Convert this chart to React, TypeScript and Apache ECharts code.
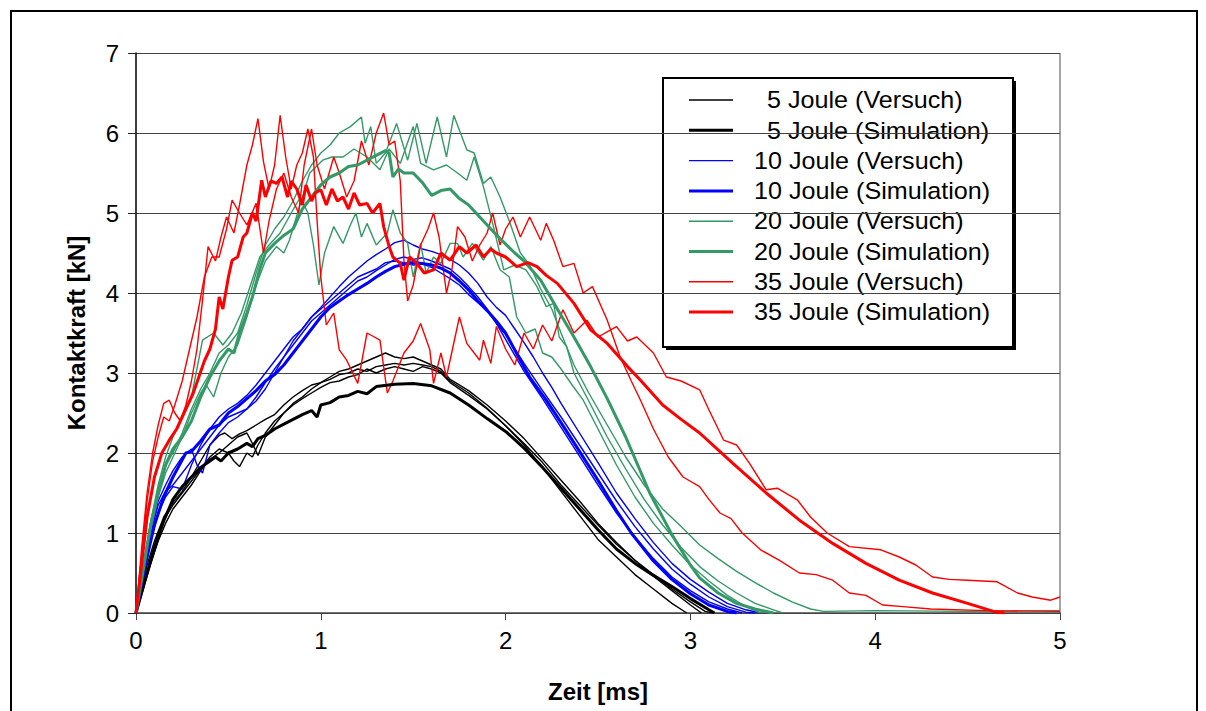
import React, { useEffect, useRef } from "react";
import * as echarts from "echarts";

type P = [number, number][];

// ---------- axis ticks ----------
const xTickValues = [0, 1, 2, 3, 4, 5];
const yTickValues = [0, 1, 2, 3, 4, 5, 6, 7];

// ---------- legend labels ----------
const legendLabels = [
  "5 Joule (Versuch)",
  "5 Joule (Simulation)",
  "10 Joule (Versuch)",
  "10 Joule (Simulation)",
  "20 Joule (Versuch)",
  "20 Joule (Simulation)",
  "35 Joule (Versuch)",
  "35 Joule (Simulation)",
];

// ---------- 5 Joule ----------
const j5Test1: P = [[0,0],[0.03,0.3],[0.06,0.6],[0.1,0.9],[0.15,1.2],[0.2,1.38],[0.25,1.52],[0.3,1.7],[0.35,1.9],[0.4,2.1],[0.45,2.22],[0.48,2.25],[0.52,2.18],[0.56,2.24],[0.6,2.28],[0.65,2.35],[0.7,2.42],[0.75,2.48],[0.8,2.6],[0.85,2.7],[0.9,2.78],[0.95,2.85],[1.0,2.88],[1.05,2.95],[1.1,3.02],[1.15,3.05],[1.2,3.1],[1.25,3.15],[1.3,3.2],[1.35,3.25],[1.4,3.2],[1.45,3.18],[1.5,3.2],[1.55,3.15],[1.6,3.1],[1.65,3.05],[1.7,2.92],[1.8,2.78],[1.9,2.6],[2.0,2.4],[2.1,2.18],[2.2,1.92],[2.3,1.66],[2.4,1.4],[2.5,1.12],[2.6,0.88],[2.7,0.66],[2.8,0.46],[2.9,0.28],[3.0,0.1],[3.06,0]];
const j5Test2: P = [[0,0],[0.04,0.35],[0.08,0.7],[0.12,1.0],[0.16,1.2],[0.2,1.35],[0.25,1.5],[0.3,1.65],[0.35,1.8],[0.4,1.95],[0.45,2.05],[0.5,2.0],[0.53,1.9],[0.56,1.83],[0.6,2.0],[0.63,1.95],[0.66,2.1],[0.7,2.25],[0.75,2.4],[0.8,2.5],[0.85,2.62],[0.9,2.7],[0.95,2.8],[1.0,2.88],[1.05,2.92],[1.1,2.98],[1.15,3.0],[1.2,3.05],[1.25,3.02],[1.3,3.08],[1.35,3.1],[1.4,3.12],[1.45,3.1],[1.5,3.12],[1.55,3.1],[1.6,3.08],[1.65,3.02],[1.7,2.9],[1.8,2.75],[1.9,2.56],[2.0,2.34],[2.1,2.1],[2.2,1.82],[2.3,1.52],[2.4,1.22],[2.5,0.92],[2.6,0.7],[2.7,0.48],[2.8,0.3],[2.9,0.12],[2.98,0]];
const j5Test3: P = [[0,0],[0.04,0.3],[0.08,0.62],[0.12,0.9],[0.16,1.12],[0.2,1.3],[0.25,1.45],[0.3,1.6],[0.35,1.78],[0.4,1.92],[0.45,2.0],[0.5,2.1],[0.55,2.2],[0.6,2.25],[0.63,2.12],[0.66,1.97],[0.7,2.2],[0.75,2.35],[0.8,2.5],[0.85,2.6],[0.9,2.68],[0.95,2.75],[1.0,2.82],[1.05,2.88],[1.1,2.9],[1.15,2.95],[1.2,2.98],[1.25,3.05],[1.3,3.0],[1.35,3.05],[1.4,3.08],[1.45,3.05],[1.5,3.02],[1.55,3.08],[1.6,3.05],[1.65,3.0],[1.7,2.88],[1.8,2.72],[1.9,2.55],[2.0,2.34],[2.1,2.12],[2.2,1.88],[2.3,1.6],[2.4,1.35],[2.5,1.1],[2.6,0.86],[2.7,0.66],[2.8,0.48],[2.9,0.3],[3.0,0.14],[3.08,0.02],[3.12,0]];
const j5Sim: P = [[0,0],[0.05,0.42],[0.1,0.8],[0.15,1.15],[0.2,1.42],[0.25,1.58],[0.3,1.7],[0.35,1.82],[0.4,1.9],[0.43,1.95],[0.46,1.9],[0.5,2.0],[0.55,2.05],[0.6,2.12],[0.63,2.08],[0.66,2.18],[0.7,2.22],[0.75,2.3],[0.8,2.36],[0.85,2.42],[0.9,2.48],[0.95,2.53],[0.98,2.45],[1.0,2.6],[1.05,2.63],[1.1,2.7],[1.15,2.72],[1.2,2.77],[1.25,2.74],[1.3,2.83],[1.4,2.86],[1.5,2.87],[1.6,2.84],[1.7,2.75],[1.8,2.6],[1.9,2.43],[2.0,2.27],[2.1,2.06],[2.2,1.82],[2.3,1.56],[2.4,1.3],[2.5,1.04],[2.6,0.8],[2.7,0.62],[2.8,0.47],[2.9,0.33],[3.0,0.18],[3.1,0.04],[3.13,0]];

// ---------- 10 Joule ----------
const j10Test1: P = [[0,0],[0.04,0.5],[0.08,1.0],[0.12,1.35],[0.16,1.52],[0.2,1.6],[0.25,1.75],[0.3,1.9],[0.35,2.05],[0.4,2.2],[0.45,2.35],[0.5,2.45],[0.55,2.5],[0.6,2.55],[0.65,2.65],[0.7,2.8],[0.75,3.0],[0.8,3.2],[0.85,3.4],[0.9,3.55],[0.95,3.7],[1.0,3.82],[1.05,3.95],[1.1,4.08],[1.15,4.2],[1.2,4.3],[1.25,4.4],[1.3,4.48],[1.35,4.55],[1.4,4.63],[1.45,4.66],[1.5,4.6],[1.55,4.55],[1.6,4.52],[1.65,4.48],[1.7,4.42],[1.75,4.35],[1.8,4.25],[1.85,4.12],[1.9,3.95],[1.95,3.82],[2.0,3.72],[2.05,3.55],[2.1,3.38],[2.15,3.2],[2.2,3.0],[2.25,2.82],[2.3,2.62],[2.4,2.25],[2.5,1.88],[2.6,1.5],[2.7,1.18],[2.8,0.88],[2.9,0.62],[3.0,0.42],[3.1,0.26],[3.2,0.12],[3.3,0.04],[3.38,0]];
const j10Test2: P = [[0,0],[0.04,0.55],[0.08,1.05],[0.12,1.4],[0.16,1.6],[0.2,1.78],[0.25,1.95],[0.3,2.05],[0.33,1.85],[0.36,1.75],[0.4,2.1],[0.45,2.25],[0.5,2.38],[0.55,2.45],[0.6,2.55],[0.65,2.7],[0.7,2.88],[0.75,3.05],[0.8,3.2],[0.85,3.35],[0.9,3.5],[0.95,3.65],[1.0,3.75],[1.05,3.85],[1.1,3.95],[1.15,4.05],[1.2,4.15],[1.25,4.2],[1.3,4.28],[1.35,4.35],[1.4,4.42],[1.45,4.45],[1.5,4.42],[1.55,4.44],[1.6,4.4],[1.65,4.35],[1.7,4.3],[1.75,4.2],[1.8,4.08],[1.85,3.95],[1.9,3.8],[1.95,3.62],[2.0,3.42],[2.05,3.22],[2.1,3.02],[2.2,2.68],[2.3,2.32],[2.4,1.96],[2.5,1.6],[2.6,1.25],[2.7,0.95],[2.8,0.68],[2.9,0.45],[3.0,0.28],[3.1,0.14],[3.2,0.05],[3.28,0]];
const j10Test3: P = [[0,0],[0.04,0.45],[0.08,0.9],[0.12,1.25],[0.16,1.45],[0.2,1.58],[0.25,1.55],[0.3,1.85],[0.35,2.1],[0.4,2.3],[0.45,2.45],[0.5,2.55],[0.55,2.62],[0.6,2.72],[0.65,2.85],[0.7,3.0],[0.75,3.15],[0.8,3.3],[0.85,3.45],[0.9,3.55],[0.95,3.7],[1.0,3.8],[1.05,3.9],[1.1,4.0],[1.15,4.1],[1.2,4.2],[1.25,4.25],[1.3,4.3],[1.35,4.38],[1.4,4.4],[1.45,4.38],[1.5,4.35],[1.55,4.36],[1.6,4.32],[1.65,4.25],[1.7,4.18],[1.75,4.1],[1.8,3.98],[1.85,3.88],[1.9,3.78],[1.95,3.62],[2.0,3.48],[2.05,3.3],[2.1,3.12],[2.2,2.78],[2.3,2.45],[2.4,2.1],[2.5,1.75],[2.6,1.4],[2.7,1.08],[2.8,0.8],[2.9,0.55],[3.0,0.36],[3.1,0.2],[3.2,0.08],[3.3,0.01],[3.35,0]];
const j10Sim: P = [[0,0],[0.05,0.6],[0.1,1.1],[0.15,1.45],[0.2,1.7],[0.27,2.0],[0.3,2.02],[0.35,2.15],[0.4,2.3],[0.45,2.35],[0.5,2.5],[0.55,2.58],[0.6,2.68],[0.65,2.78],[0.7,2.9],[0.75,2.98],[0.8,3.1],[0.85,3.25],[0.9,3.4],[0.95,3.55],[1.0,3.7],[1.05,3.82],[1.1,3.9],[1.15,3.98],[1.2,4.05],[1.25,4.12],[1.3,4.2],[1.35,4.27],[1.4,4.33],[1.45,4.36],[1.5,4.38],[1.55,4.37],[1.6,4.35],[1.65,4.31],[1.7,4.25],[1.75,4.15],[1.8,4.04],[1.85,3.9],[1.9,3.78],[1.95,3.65],[2.0,3.5],[2.07,3.2],[2.13,2.95],[2.22,2.66],[2.3,2.38],[2.4,2.02],[2.5,1.66],[2.6,1.28],[2.68,1.0],[2.8,0.65],[2.9,0.42],[3.0,0.24],[3.1,0.1],[3.2,0.02],[3.25,0]];

// ---------- 20 Joule ----------
const j20Test1: P = [[0,0],[0.04,0.6],[0.08,1.15],[0.12,1.55],[0.16,1.85],[0.2,2.0],[0.25,2.25],[0.3,2.55],[0.35,2.8],[0.4,3.0],[0.45,3.25],[0.5,3.35],[0.55,3.5],[0.6,3.85],[0.65,4.25],[0.7,4.6],[0.75,4.8],[0.8,4.95],[0.85,5.15],[0.9,5.4],[0.95,5.6],[1.0,5.75],[1.05,5.85],[1.1,6.0],[1.16,6.08],[1.22,6.2],[1.24,5.87],[1.27,6.08],[1.3,5.62],[1.35,5.75],[1.41,6.12],[1.47,5.66],[1.52,6.12],[1.57,5.62],[1.63,6.2],[1.68,5.7],[1.72,6.22],[1.79,5.79],[1.83,5.75],[1.88,5.37],[1.92,5.45],[1.97,5.2],[2.02,4.9],[2.08,4.5],[2.13,4.35],[2.19,4.05],[2.25,3.8],[2.3,3.5],[2.37,3.1],[2.45,2.75],[2.55,2.35],[2.65,1.95],[2.75,1.6],[2.85,1.3],[2.95,1.08],[3.05,0.85],[3.15,0.68],[3.25,0.52],[3.35,0.38],[3.45,0.25],[3.55,0.14],[3.65,0.05],[3.72,0.02],[4.0,0.03],[4.5,0.02],[5.0,0.03]];
const j20Test2: P = [[0,0],[0.04,0.55],[0.08,1.05],[0.12,1.45],[0.16,1.75],[0.2,1.95],[0.25,2.2],[0.3,2.5],[0.35,2.75],[0.38,2.85],[0.42,2.7],[0.46,3.0],[0.5,3.2],[0.55,3.35],[0.6,3.7],[0.65,4.1],[0.7,4.4],[0.76,4.58],[0.8,4.5],[0.83,4.66],[0.88,5.04],[0.94,5.5],[1.01,5.66],[1.06,5.7],[1.12,5.7],[1.18,5.8],[1.25,5.7],[1.32,5.54],[1.37,5.8],[1.43,5.62],[1.5,6.08],[1.54,5.62],[1.61,5.54],[1.68,5.6],[1.74,5.5],[1.79,5.41],[1.83,5.7],[1.88,5.33],[1.93,4.87],[1.99,4.29],[2.05,4.35],[2.11,4.29],[2.17,4.08],[2.22,3.83],[2.26,3.87],[2.29,3.45],[2.33,3.33],[2.37,3.0],[2.45,2.65],[2.55,2.2],[2.65,1.8],[2.75,1.42],[2.85,1.1],[2.95,0.82],[3.05,0.58],[3.15,0.4],[3.25,0.25],[3.35,0.12],[3.45,0.04],[3.5,0]];
const j20Test3: P = [[0,0],[0.04,0.6],[0.08,1.15],[0.12,1.6],[0.16,1.95],[0.2,2.2],[0.25,2.45],[0.3,2.7],[0.36,3.41],[0.42,3.5],[0.47,3.35],[0.52,3.5],[0.57,3.75],[0.62,4.1],[0.67,4.45],[0.72,4.6],[0.78,4.75],[0.84,5.0],[0.89,5.2],[0.93,5.0],[0.96,4.6],[0.99,4.1],[1.02,4.5],[1.07,4.83],[1.12,4.62],[1.16,4.85],[1.19,5.0],[1.22,4.7],[1.25,4.87],[1.3,4.6],[1.36,4.75],[1.39,5.04],[1.43,4.75],[1.47,4.62],[1.5,4.2],[1.54,4.62],[1.57,4.25],[1.61,4.45],[1.65,4.37],[1.7,4.62],[1.74,4.62],[1.77,4.45],[1.82,4.62],[1.88,4.41],[1.92,4.58],[1.97,4.29],[2.02,4.2],[2.06,3.7],[2.11,3.5],[2.16,3.55],[2.2,3.25],[2.25,3.2],[2.3,3.05],[2.36,2.85],[2.42,2.66],[2.5,2.3],[2.6,1.85],[2.7,1.45],[2.8,1.12],[2.9,0.85],[3.0,0.6],[3.1,0.4],[3.2,0.22],[3.3,0.08],[3.38,0]];
const j20Sim: P = [[0,0],[0.04,0.55],[0.08,1.1],[0.12,1.5],[0.16,1.85],[0.2,2.05],[0.25,2.2],[0.3,2.4],[0.35,2.7],[0.4,2.95],[0.45,3.15],[0.5,3.3],[0.53,3.25],[0.56,3.5],[0.6,3.75],[0.63,3.95],[0.67,4.3],[0.7,4.5],[0.75,4.62],[0.8,4.72],[0.85,4.8],[0.9,5.05],[0.95,5.2],[1.0,5.35],[1.05,5.45],[1.1,5.5],[1.15,5.58],[1.2,5.6],[1.25,5.66],[1.3,5.72],[1.35,5.78],[1.37,5.75],[1.39,5.45],[1.42,5.55],[1.45,5.5],[1.5,5.5],[1.55,5.38],[1.6,5.22],[1.65,5.28],[1.7,5.3],[1.75,5.18],[1.8,5.1],[1.86,4.95],[1.92,4.8],[1.97,4.68],[2.05,4.5],[2.1,4.4],[2.19,4.16],[2.28,3.8],[2.37,3.45],[2.46,3.08],[2.55,2.68],[2.65,2.2],[2.78,1.5],[2.9,0.98],[3.0,0.6],[3.05,0.44],[3.15,0.25],[3.25,0.12],[3.35,0.05],[3.45,0]];

// ---------- 35 Joule ----------
const j35Test1: P = [[0,0],[0.03,0.8],[0.06,1.5],[0.09,2.0],[0.12,2.35],[0.15,2.62],[0.18,2.66],[0.21,2.5],[0.24,2.4],[0.27,2.6],[0.3,2.9],[0.33,3.3],[0.36,3.91],[0.39,4.58],[0.43,4.4],[0.46,4.7],[0.49,4.95],[0.53,4.75],[0.56,5.1],[0.6,5.6],[0.63,5.85],[0.66,6.18],[0.69,5.64],[0.72,5.3],[0.75,5.6],[0.78,6.22],[0.81,5.7],[0.84,5.3],[0.87,5.6],[0.9,5.75],[0.93,6.05],[0.96,5.7],[0.98,4.9],[1.0,4.2],[1.03,3.6],[1.07,3.75],[1.1,3.29],[1.14,3.16],[1.2,2.87],[1.25,3.5],[1.29,3.45],[1.32,3.41],[1.36,2.75],[1.39,2.9],[1.45,3.25],[1.5,3.4],[1.54,3.62],[1.59,3.29],[1.61,2.87],[1.65,3.25],[1.68,2.95],[1.75,3.7],[1.79,3.37],[1.86,3.16],[1.88,3.41],[1.92,3.12],[1.95,3.58],[2.0,3.3],[2.05,3.1],[2.1,3.5],[2.15,3.3],[2.2,3.6],[2.25,3.4],[2.31,3.79],[2.37,3.5],[2.44,3.66],[2.5,3.45],[2.6,3.58],[2.66,3.4],[2.71,3.45],[2.8,3.25],[2.87,2.95],[2.95,2.9],[3.05,2.79],[3.1,2.54],[3.18,2.16],[3.25,2.1],[3.32,1.87],[3.41,1.54],[3.47,1.56],[3.58,1.41],[3.65,1.2],[3.74,1.0],[3.86,0.83],[4.03,0.79],[4.13,0.7],[4.22,0.6],[4.31,0.45],[4.4,0.42],[4.5,0.41],[4.66,0.39],[4.77,0.25],[4.85,0.2],[4.95,0.16],[5.0,0.2]];
const j35Test2: P = [[0,0],[0.03,0.7],[0.06,1.4],[0.09,1.9],[0.12,2.2],[0.15,2.45],[0.18,2.4],[0.21,2.6],[0.25,2.9],[0.29,3.3],[0.33,3.7],[0.37,4.2],[0.41,4.45],[0.45,4.45],[0.49,4.8],[0.52,5.16],[0.56,5.0],[0.6,4.85],[0.65,5.12],[0.69,4.5],[0.72,4.9],[0.76,5.3],[0.8,5.5],[0.84,5.2],[0.88,5.0],[0.91,5.6],[0.95,6.05],[0.98,5.6],[1.02,5.3],[1.07,5.7],[1.1,5.5],[1.14,5.2],[1.18,5.4],[1.22,5.9],[1.26,5.6],[1.3,6.0],[1.34,6.25],[1.37,5.85],[1.4,5.9],[1.43,5.4],[1.45,4.4],[1.47,3.9],[1.5,4.1],[1.54,4.6],[1.58,4.8],[1.61,5.0],[1.64,4.7],[1.68,4.0],[1.71,4.3],[1.74,4.83],[1.78,4.7],[1.82,4.4],[1.86,4.6],[1.9,4.75],[1.93,5.0],[1.97,4.6],[2.0,4.8],[2.04,4.95],[2.08,4.7],[2.13,4.95],[2.19,4.66],[2.22,4.87],[2.26,4.66],[2.31,4.33],[2.37,4.37],[2.42,4.0],[2.47,4.08],[2.55,3.66],[2.62,3.2],[2.68,2.9],[2.73,2.66],[2.8,2.3],[2.88,1.95],[2.96,1.7],[3.05,1.58],[3.1,1.42],[3.16,1.25],[3.22,1.18],[3.28,1.0],[3.38,0.79],[3.48,0.66],[3.59,0.5],[3.68,0.48],[3.77,0.41],[3.86,0.25],[3.95,0.22],[4.04,0.1],[4.15,0.08],[4.3,0.05],[4.6,0.03],[5.0,0.02]];
const j35Sim: P = [[0,0],[0.03,0.6],[0.06,1.2],[0.1,1.7],[0.14,2.0],[0.18,2.16],[0.22,2.3],[0.26,2.5],[0.31,2.75],[0.34,2.95],[0.37,3.15],[0.4,3.3],[0.43,3.55],[0.45,3.95],[0.47,3.8],[0.5,4.2],[0.52,4.41],[0.55,4.45],[0.58,4.7],[0.6,4.75],[0.63,5.0],[0.65,4.9],[0.68,5.41],[0.7,5.2],[0.73,5.4],[0.76,5.37],[0.79,5.45],[0.82,5.2],[0.84,5.4],[0.87,5.3],[0.9,5.1],[0.92,5.35],[0.95,5.15],[0.97,5.25],[1.0,5.29],[1.03,5.1],[1.06,5.3],[1.09,5.15],[1.12,5.2],[1.15,5.05],[1.18,5.25],[1.21,5.1],[1.25,5.12],[1.28,5.0],[1.32,5.12],[1.34,4.83],[1.37,4.58],[1.39,4.45],[1.43,4.37],[1.45,4.16],[1.48,4.45],[1.52,4.37],[1.56,4.25],[1.61,4.29],[1.65,4.5],[1.7,4.41],[1.75,4.58],[1.79,4.5],[1.84,4.6],[1.88,4.45],[1.92,4.55],[1.95,4.5],[2.0,4.45],[2.06,4.33],[2.12,4.38],[2.17,4.33],[2.22,4.22],[2.28,4.12],[2.37,3.87],[2.46,3.54],[2.55,3.37],[2.66,3.08],[2.73,2.91],[2.85,2.6],[2.95,2.42],[3.05,2.25],[3.23,1.87],[3.41,1.5],[3.59,1.16],[3.77,0.87],[3.95,0.62],[4.13,0.41],[4.31,0.25],[4.5,0.12],[4.64,0.02],[4.7,0]];

// ---------- styling (kept separate from data) ----------
const groupColors = ["#000000", "#0000FF", "#339966", "#FF0000"];
const THIN = 1.4;
const THICK = 3;
const FONT = "'Liberation Sans', Arial, sans-serif";

const groups = [
  { tests: [j5Test1, j5Test2, j5Test3], sim: j5Sim },
  { tests: [j10Test1, j10Test2, j10Test3], sim: j10Sim },
  { tests: [j20Test1, j20Test2, j20Test3], sim: j20Sim },
  { tests: [j35Test1, j35Test2], sim: j35Sim },
];

export default function App() {
  const ref = useRef<HTMLDivElement>(null);

  useEffect(() => {
    if (!ref.current) return;
    const chart = echarts.init(ref.current, undefined, { renderer: "svg" });

    const series: any[] = [];
    groups.forEach((g, gi) => {
      g.tests.forEach((d) => {
        series.push({
          type: "line",
          name: legendLabels[gi * 2],
          data: d,
          showSymbol: false,
          symbol: "none",
          lineStyle: { color: groupColors[gi], width: THIN },
          itemStyle: { color: groupColors[gi] },
          z: 2,
        });
      });
      series.push({
        type: "line",
        name: legendLabels[gi * 2 + 1],
        data: g.sim,
        showSymbol: false,
        symbol: "none",
        lineStyle: { color: groupColors[gi], width: THICK },
        itemStyle: { color: groupColors[gi] },
        z: 3,
      });
    });

    // legend drawn as graphic
    const lgX = 663, lgY = 78, lgW = 350, lgH = 269;
    const legendChildren: any[] = [
      { type: "rect", shape: { x: lgX + 3, y: lgY + 3, width: lgW, height: lgH }, style: { fill: "#000" } },
      { type: "rect", shape: { x: lgX, y: lgY, width: lgW, height: lgH }, style: { fill: "#fff", stroke: "#000", lineWidth: 2 } },
    ];
    legendLabels.forEach((lab, i) => {
      const gi = Math.floor(i / 2);
      const isSim = i % 2 === 1;
      const rowY = 100 + i * 30.3;
      legendChildren.push({
        type: "line",
        shape: { x1: 689, y1: rowY, x2: 733, y2: rowY },
        style: { stroke: groupColors[gi], lineWidth: isSim ? THICK : THIN },
      });
      legendChildren.push({
        type: "text",
        x: gi === 0 ? 767 : 754,
        y: rowY,
        scaleX: 1.07,
        style: { text: lab, font: `23.5px ${FONT}`, fill: "#000", textAlign: "left", textVerticalAlign: "middle" },
      });
    });

    chart.setOption({
      animation: false,
      backgroundColor: "#fff",
      grid: { left: 136, top: 53, right: 146, bottom: 98, containLabel: false },
      xAxis: {
        type: "value",
        min: xTickValues[0],
        max: xTickValues[xTickValues.length - 1],
        interval: 1,
        name: "Zeit [ms]",
        nameLocation: "middle",
        nameGap: 66,
        nameTextStyle: { fontFamily: FONT, fontSize: 24, fontWeight: "bold", color: "#000" },
        axisLine: { show: true, onZero: false, lineStyle: { color: "#444", width: 1.5 } },
        axisTick: { show: true, length: 7, inside: false, lineStyle: { color: "#444" } },
        axisLabel: { fontFamily: FONT, fontSize: 24, color: "#000", margin: 15 },
        splitLine: { show: false },
      },
      yAxis: {
        type: "value",
        min: yTickValues[0],
        max: yTickValues[yTickValues.length - 1],
        interval: 1,
        name: "Kontaktkraft [kN]",
        nameLocation: "middle",
        nameRotate: 90,
        nameGap: 48,
        nameTextStyle: { fontFamily: FONT, fontSize: 24, fontWeight: "bold", color: "#000" },
        axisLine: { show: true, lineStyle: { color: "#000", width: 1.5 } },
        axisTick: { show: true, length: 8, inside: false, lineStyle: { color: "#222" } },
        axisLabel: { fontFamily: FONT, fontSize: 24, color: "#000", margin: 17 },
        splitLine: { show: true, lineStyle: { color: "#444", width: 1 } },
      },
      series,
      graphic: [
        {
          type: "rect",
          shape: { x: 11, y: 11, width: 1186, height: 730 },
          style: { fill: "none", stroke: "#000", lineWidth: 2 },
          silent: true,
          z: -10,
        },
        {
          type: "line",
          shape: { x1: 1060, y1: 53, x2: 1060, y2: 613 },
          style: { stroke: "#888", lineWidth: 1.5 },
          silent: true,
        },
        { type: "group", children: legendChildren, z: 100 },
      ],
    });

    return () => chart.dispose();
  }, []);

  return (
    <div
      ref={ref}
      style={{ position: "absolute", left: 0, top: 0, width: 1206, height: 711, background: "#fff" }}
    />
  );
}
